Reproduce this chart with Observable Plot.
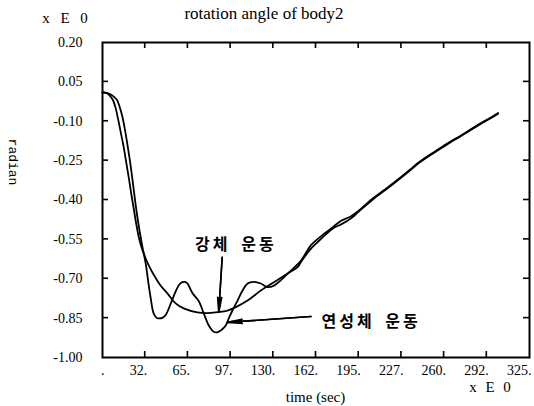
<!DOCTYPE html>
<html>
<head>
<meta charset="utf-8">
<script src="https://cdn.jsdelivr.net/npm/d3@7"></script>
<script src="https://cdn.jsdelivr.net/npm/@observablehq/plot@0.6"></script>
<style>
  html, body { margin: 0; padding: 0; background: #fff; }
  #chart { width: 534px; height: 406px; }
</style>
</head>
<body>
<div id="chart"></div>
<script>
// ---- tick values and labels ----
const xTicks = [0, 32.5, 65, 97.5, 130, 162.5, 195, 227.5, 260, 292.5, 325];
const xTickLabels = [".", "32.", "65.", "97.", "130.", "162.", "195.", "227.", "260.", "292.", "325."];
const yTicks = [0.20, 0.05, -0.10, -0.25, -0.40, -0.55, -0.70, -0.85, -1.00];
const yTickLabels = ["0.20", "0.05", "-0.10", "-0.25", "-0.40", "-0.55", "-0.70", "-0.85", "-1.00"];

// ---- flexible body motion (연성체 운동) ----
const flexTime = [0, 3, 6, 8, 10, 12, 14, 16, 18, 20, 22, 24, 26, 28, 30, 31.3, 33, 34.5, 36.6, 38.9, 41, 42.7,
  45.5, 48.1, 52, 55.7, 58.5, 60.8, 62.8, 64.6, 68.4, 73.2, 77.1, 80.9, 84.7, 87.5, 90, 93.8, 96.1, 98.9,
  102.8, 106.6, 110.4, 115.2, 120.5, 125.6, 130.5, 135.8, 143.4, 151, 155, 158.7, 163.8, 170, 176.2, 182,
  189.2, 195, 201.9, 208, 214.4, 221, 227.3, 234, 240.1, 246, 252.5, 259, 265.5, 272, 278.2, 285, 290.7, 296, 301.1];
const flexAngle = [0.01, 0.008, -0.005, -0.02, -0.05, -0.095, -0.145, -0.195, -0.255, -0.315, -0.38, -0.44, -0.50, -0.55, -0.585, -0.604, -0.645, -0.70, -0.771, -0.832, -0.848, -0.851,
  -0.849, -0.838, -0.794, -0.748, -0.722, -0.713, -0.712, -0.718, -0.754, -0.785, -0.832, -0.878, -0.902, -0.904, -0.897, -0.878, -0.851, -0.821,
  -0.783, -0.745, -0.718, -0.712, -0.718, -0.732, -0.726, -0.705, -0.669, -0.632, -0.600, -0.572, -0.548, -0.524, -0.500, -0.478,
  -0.462, -0.441, -0.410, -0.386, -0.362, -0.337, -0.312, -0.285, -0.259, -0.238, -0.217, -0.196, -0.175, -0.157, -0.137, -0.116, -0.099, -0.085, -0.069];

// ---- rigid body motion (강체 운동) ----
const rigidTime = [0, 3, 6, 9, 11.2, 13, 15, 17, 19, 21, 23, 25, 27, 29, 31.3, 33, 35.1, 38.9, 44.2, 49.4, 55.7, 61.8,
  72.2, 79.9, 87.5, 95.1, 101.5, 110.4, 120.5, 130.5, 140.9, 148.5, 151, 155, 158.7, 163.8, 170, 176.2, 182,
  189.2, 195, 201.9, 208, 214.4, 221, 227.3, 234, 240.1, 246, 252.5, 259, 265.5, 272, 278.2, 285, 290.7, 296, 301.1];
const rigidAngle = [0.01, 0.008, 0.003, -0.008, -0.02, -0.045, -0.08, -0.13, -0.19, -0.255, -0.33, -0.41, -0.48, -0.54, -0.60, -0.625, -0.648, -0.684, -0.726, -0.756, -0.794, -0.813,
  -0.828, -0.831, -0.827, -0.821, -0.808, -0.783, -0.745, -0.713, -0.680, -0.656, -0.636, -0.608, -0.585, -0.560, -0.531, -0.506, -0.492,
  -0.470, -0.444, -0.415, -0.389, -0.365, -0.340, -0.315, -0.288, -0.262, -0.241, -0.220, -0.199, -0.178, -0.159, -0.140, -0.119, -0.102, -0.087, -0.071];

// ---- annotations ----
const annotationLabels = ["강체 운동", "연성체 운동"];
const annotationX = [101.5, 204.5];
const annotationY = [-0.570, -0.863];
const arrowX1 = [91.1, 158.7];
const arrowY1 = [-0.618, -0.844];
const arrowX2 = [88.5, 95.1];
const arrowY2 = [-0.827, -0.866];

const W = 534, H = 406;
const mL = 102, mR = 5, mT = 42, mB = 49;
const innerW = W - mL - mR, innerH = H - mT - mB;
const tickLen = 6;

const flex = flexTime.map((t, i) => ({t, a: flexAngle[i]}));
const rigid = rigidTime.map((t, i) => ({t, a: rigidAngle[i]}));
const notes = annotationLabels.map((label, i) => ({label, x: annotationX[i], y: annotationY[i]}));
const arrows = arrowX1.map((x1, i) => ({x1, y1: arrowY1[i], x2: arrowX2[i], y2: arrowY2[i]}));
const innerX = xTicks.slice(1, -1);
const innerY = yTicks.slice(1, -1);

const tickFont = "'Liberation Serif', 'DejaVu Serif', serif";

const svg = Plot.plot({
  width: W, height: H,
  marginLeft: mL, marginRight: mR, marginTop: mT, marginBottom: mB,
  style: {background: "#fff", color: "#000", fontFamily: tickFont, fontSize: "14px"},
  x: {domain: [0, 325]},
  y: {domain: [-1.0, 0.2]},
  marks: [
    Plot.axisX(xTicks, {tickSize: 0, tickPadding: 8, textAnchor: "end", dx: 2,
      tickFormat: (d, i) => xTickLabels[i], label: null, fontSize: 14}),
    Plot.axisY(yTicks, {tickSize: 0, tickPadding: 20,
      tickFormat: (d, i) => yTickLabels[i], label: null, fontSize: 14}),
    Plot.frame({stroke: "#000", strokeWidth: 2}),
    Plot.line(rigid, {x: "t", y: "a", stroke: "#000", strokeWidth: 1.8, curve: "catmull-rom"}),
    Plot.line(flex, {x: "t", y: "a", stroke: "#000", strokeWidth: 1.8, curve: "catmull-rom"}),
    Plot.arrow(arrows, {x1: "x1", y1: "y1", x2: "x2", y2: "y2", stroke: "#000",
      strokeWidth: 1.6, headLength: 14, headAngle: 16}),
    Plot.arrow(arrows, {x1: "x1", y1: "y1", x2: "x2", y2: "y2", stroke: "#000",
      strokeWidth: 1.6, headLength: 13, headAngle: 8}),
    Plot.text(notes, {x: "x", y: "y", text: "label", fill: "#000",
      fontFamily: "'Noto Sans CJK KR', sans-serif", fontWeight: 600, fontSize: 16,
      className: "note"})
  ]
});

const s = d3.select(svg);
s.selectAll(".note text").style("letter-spacing", "3px").style("word-spacing", "4px");

// inward ticks on all four sides, placed with the plot's own scales
const sx = svg.scale("x"), sy = svg.scale("y");
const tg = s.append("g").attr("stroke", "#000").attr("stroke-width", 1.6);
innerY.forEach(v => {
  const y = sy.apply(v);
  tg.append("line").attr("x1", mL).attr("x2", mL + tickLen).attr("y1", y).attr("y2", y);
  tg.append("line").attr("x1", W - mR).attr("x2", W - mR - tickLen).attr("y1", y).attr("y2", y);
});
innerX.forEach(v => {
  const x = sx.apply(v);
  tg.append("line").attr("x1", x).attr("x2", x).attr("y1", H - mB).attr("y2", H - mB - tickLen);
  tg.append("line").attr("x1", x).attr("x2", x).attr("y1", mT).attr("y2", mT + tickLen);
});

s.append("text").attr("x", 264).attr("y", 13).attr("text-anchor", "middle")
  .attr("dominant-baseline", "central").style("font-family", tickFont).style("font-size", "17px")
  .text("rotation angle of body2");
s.append("text").attr("x", 65).attr("y", 18).attr("text-anchor", "middle")
  .attr("dominant-baseline", "central").style("font-family", tickFont).style("font-size", "15px")
  .style("word-spacing", "7px").text("x E 0");
s.append("text").attr("x", 490).attr("y", 387).attr("text-anchor", "middle")
  .attr("dominant-baseline", "central").style("font-family", tickFont).style("font-size", "15px")
  .style("word-spacing", "5px").text("x E 0");
s.append("text").attr("x", mL + innerW / 2).attr("y", 397).attr("text-anchor", "middle")
  .attr("dominant-baseline", "central").style("font-family", tickFont).style("font-size", "15px")
  .text("time (sec)");
s.append("text").attr("transform", "translate(12,162) rotate(90)").attr("text-anchor", "middle")
  .attr("dominant-baseline", "central").style("font-family", "'Liberation Mono', monospace")
  .style("font-size", "13px").text("radian");

document.getElementById("chart").appendChild(svg);
</script>
</body>
</html>
